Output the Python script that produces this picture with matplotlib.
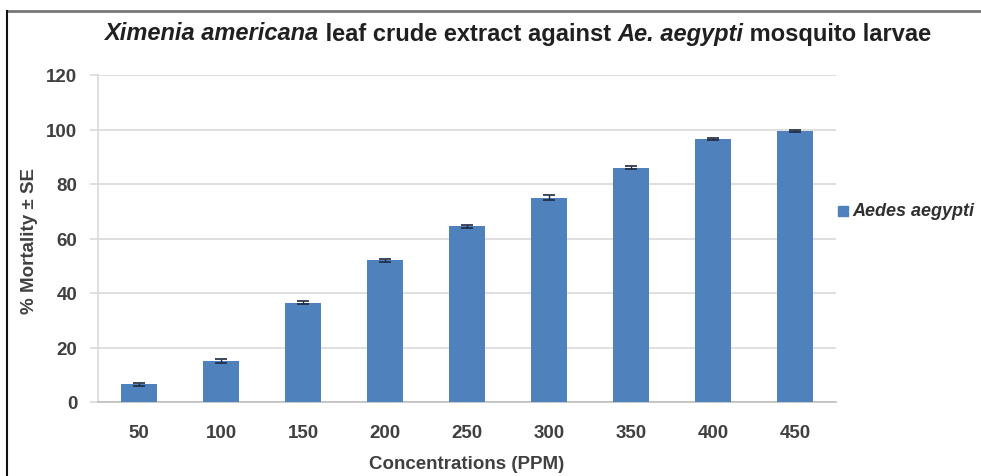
import matplotlib.pyplot as plt
from matplotlib.lines import Line2D

concentrations = ["50", "100", "150", "200", "250", "300", "350", "400", "450"]
mortality = [6.5, 15.0, 36.5, 52.0, 64.5, 75.0, 86.0, 96.5, 99.5]
mortality_se = [0.5, 0.8, 0.5, 0.5, 0.6, 0.8, 0.5, 0.5, 0.3]
y_ticks = [0, 20, 40, 60, 80, 100, 120]
series_name = "Aedes aegypti"

BAR = "#4F81BD"
TXT = "#404040"
FONT = "Liberation Sans"

fig = plt.figure(figsize=(9.81, 4.77), dpi=100)
W, H = 981, 477
ax = fig.add_axes([98 / W, 1 - 403 / H, (836 - 98) / W, (403 - 76) / H])

x = list(range(len(concentrations)))
ax.bar(x, mortality, width=0.44, color=BAR, zorder=3)
ax.errorbar(x, mortality, yerr=mortality_se, fmt="none", ecolor="#1f2a40",
            elinewidth=1.0, capsize=4, capthick=1.2, zorder=4)

ax.set_xlim(-0.5, len(concentrations) - 0.5)
ax.set_ylim(0, 120)
ax.set_yticks(y_ticks)
ax.set_xticks(x)
ax.set_xticklabels(concentrations)
ax.yaxis.grid(True, color="#D9D9D9", linewidth=1.2, zorder=0)
ax.set_axisbelow(True)
for side in ("top", "right"):
    ax.spines[side].set_visible(False)
ax.spines["left"].set_color("#D9D9D9")
ax.spines["left"].set_linewidth(1.2)
ax.spines["bottom"].set_color("#BFBFBF")
ax.spines["bottom"].set_linewidth(1.2)
ax.tick_params(axis="x", length=0, pad=16)
ax.tick_params(axis="y", length=6, color="#D9D9D9", width=1.2, pad=9)
for lab in ax.get_xticklabels() + ax.get_yticklabels():
    lab.set_fontfamily(FONT)
    lab.set_fontweight("bold")
    lab.set_fontsize(13.5)
    lab.set_color(TXT)

fig.text(30 / W, 1 - 241 / H, "% Mortality ± SE", rotation=90, ha="center", va="center",
         family=FONT, weight="bold", size=13.5, color=TXT)
fig.text(467 / W, 1 - 465 / H, "Concentrations (PPM)", ha="center", va="center",
         family=FONT, weight="bold", size=13.5, color=TXT)

# title with mixed italics
title_parts = [("Ximenia americana", "italic"), (" leaf crude extract against ", "normal"),
               ("Ae. aegypti", "italic"), (" mosquito larvae", "normal")]
fig.canvas.draw()
renderer = fig.canvas.get_renderer()
texts = []
for s, style in title_parts:
    t = fig.text(0, 1 - 34 / H, s, family=FONT, weight="bold", style=style,
                 size=17, color="#202020", va="center", ha="left")
    texts.append(t)
widths = [t.get_window_extent(renderer).width for t in texts]
start = 518 - sum(widths) / 2
for t, w in zip(texts, widths):
    t.set_x(start / W)
    start += w

# legend
fig.patches.append(plt.Rectangle((838 / W, 1 - 217 / H), 10 / W, 10 / H, transform=fig.transFigure,
                                 color=BAR, figure=fig))
fig.text(852 / W, 1 - 212 / H, series_name, family=FONT, weight="bold", style="italic",
         size=13, color="#303030", va="center", ha="left")

# outer frame, cut at right and bottom
fig.add_artist(Line2D([7 / W, 1], [1 - 12 / H, 1 - 12 / H], color="#777777", lw=2,
                      transform=fig.transFigure))
fig.add_artist(Line2D([7 / W, 7 / W], [0, 1 - 12 / H], color="#111111", lw=1.5,
                      transform=fig.transFigure))

fig.savefig("out.png", dpi=100, facecolor="white")
